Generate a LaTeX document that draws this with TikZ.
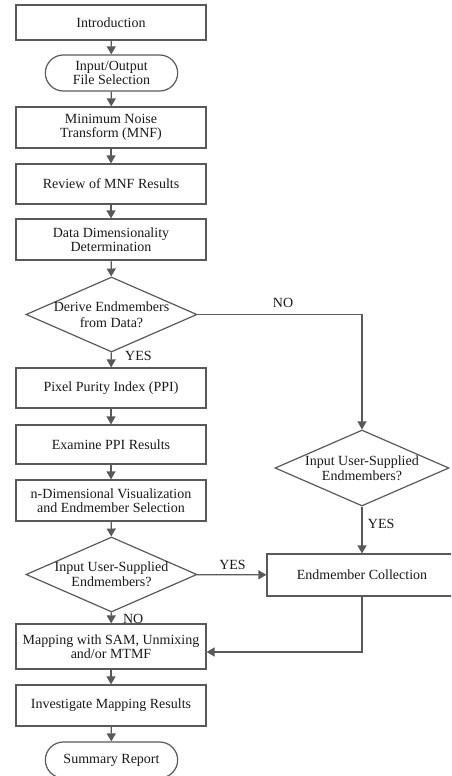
\documentclass[tikz,border=0pt]{standalone}
\usepackage{fontspec}
\setmainfont{Liberation Serif}
\usetikzlibrary{arrows.meta,shapes.geometric,shapes.misc,positioning}
\begin{document}
\begin{tikzpicture}[x=1pt,y=-1pt,>={Triangle[width=9pt,length=8pt]},
    font=\fontsize{14}{14}\selectfont,text=black!90,
    line/.style={draw=black!65,line width=1.2pt},
    box/.style={line,rectangle,minimum width=190pt,minimum height=41pt,align=center,inner sep=2pt},
    term/.style={line,rounded rectangle,minimum width=139pt,minimum height=36pt,align=center},
    decision/.style={line,diamond,minimum width=171pt,minimum height=75pt,inner sep=0pt}]
    \useasboundingbox (0,0) rectangle (451,776);
    \clip (0,0) rectangle (451,776);
    \node[box,minimum height=35pt] (intro) at (111,22.5) {Introduction};
    \node[term] (io) at (111.5,73) {Input/Output\\File Selection};
    \node[box] (mnf) at (111,127.5) {Minimum Noise\\Transform (MNF)};
    \node[box,minimum height=40pt] (review) at (111,184) {Review of MNF Results};
    \node[box] (dim) at (111,239.5) {Data Dimensionality\\Determination};
    \node[decision,label={[align=center,font=\fontsize{14}{16}\selectfont]center:Derive Endmembers\\from Data?}] (derive) at (111.5,314.5) {};
    \node[box,minimum height=40pt] (ppi) at (111,388) {Pixel Purity Index (PPI)};
    \node[box,minimum height=39pt] (exppi) at (111,444.5) {Examine PPI Results};
    \node[box] (ndim) at (111,500.5) {n-Dimensional Visualization\\and Endmember Selection};
    \node[decision,label={[align=center,font=\fontsize{14}{15}\selectfont]center:Input User-Supplied\\Endmembers?}] (userleft) at (111.5,574.5) {};
    \node[box,minimum height=45pt] (mapping) at (111,646.5) {Mapping with SAM, Unmixing\\and/or MTMF};
    \node[box] (invest) at (111,705.5) {Investigate Mapping Results};
    \node[term] (summary) at (111.5,760) {Summary Report};
    \node[decision,minimum width=174pt,minimum height=76pt,label={[align=center,font=\fontsize{14}{15}\selectfont]center:Input User-Supplied\\Endmembers?}] (userright) at (362,468) {};
    \node[box,minimum height=42pt] (coll) at (362,575) {Endmember Collection};
    \draw[line,->] (intro) -- (io);
    \draw[line,->] (io) -- (mnf);
    \draw[line,->] (mnf) -- (review);
    \draw[line,->] (review) -- (dim);
    \draw[line,->] (dim) -- (derive);
    \draw[line,->] (derive) -- node[right=10pt,pos=0.25]{YES} (ppi);
    \draw[line,->] (derive.east) -| node[above=3pt,pos=0.26]{NO} (userright.north);
    \draw[line,->] (ppi) -- (exppi);
    \draw[line,->] (exppi) -- (ndim);
    \draw[line,->] (ndim) -- (userleft);
    \draw[line,->] (userright) -- node[right=2pt,pos=0.37]{YES} (coll);
    \draw[line,->] (userleft) -- node[above=1pt,pos=0.51]{YES} (coll);
    \draw[line,->] (userleft) -- node[right=8pt,pos=0.55]{NO} (mapping);
    \draw[line,->] (coll.south) |- ([yshift=-5.5pt]mapping.east);
    \draw[line,->] (mapping) -- (invest);
    \draw[line,->] (invest) -- (summary);
\end{tikzpicture}
\end{document}
